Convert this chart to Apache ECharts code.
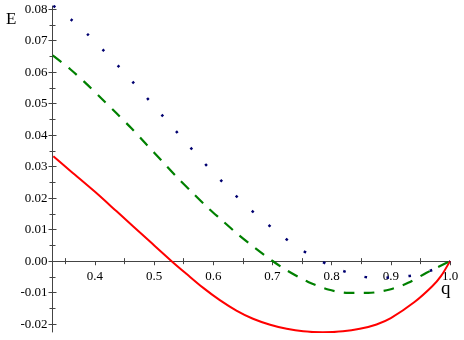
<!DOCTYPE html>
<html>
<head>
<meta charset="utf-8">
<script src="https://cdn.jsdelivr.net/npm/echarts@6/dist/echarts.min.js"></script>
<style>
  html, body { margin: 0; padding: 0; background: #fff; }
  #main { width: 464px; height: 340px; }
</style>
</head>
<body>
<div id="main"></div>
<script>
// curve samples: q values and E values
const qRed = [0.3296, 0.36, 0.4, 0.4366, 0.4929, 0.5295, 0.555, 0.583, 0.611, 0.639, 0.667, 0.696, 0.724, 0.752, 0.785, 0.819, 0.8476, 0.8758, 0.90, 0.94, 0.97, 0.985, 1.0];
const eRed = [0.0333, 0.0284, 0.0220, 0.0158, 0.0062, 0.0, -0.0041, -0.0085, -0.0124, -0.0157, -0.0183, -0.0202, -0.0215, -0.0223, -0.0226, -0.0223, -0.0215, -0.0201, -0.0181, -0.0130, -0.0080, -0.0047, 0];

const qGreen = [0.3285, 0.3578, 0.3843, 0.4101, 0.436, 0.462, 0.4867, 0.5127, 0.5373, 0.5627, 0.5887, 0.6157, 0.6421, 0.6703, 0.699, 0.7238, 0.7603, 0.7941, 0.8279, 0.8616, 0.8983, 0.9292, 0.9603, 1.0];
const eGreen = [0.0653, 0.0610, 0.0565, 0.0518, 0.0470, 0.0421, 0.0371, 0.0319, 0.0269, 0.0221, 0.0173, 0.0128, 0.0084, 0.0042, 0.0002, -0.0029, -0.0066, -0.0090, -0.0101, -0.0101, -0.0090, -0.0069, -0.0037, 0];

const qBlue = [0.3296, 0.359, 0.386, 0.4118, 0.4367, 0.4613, 0.4861, 0.5098, 0.534, 0.5583, 0.583, 0.6083, 0.6336, 0.6596, 0.6867, 0.7154, 0.744, 0.7742, 0.8057, 0.8375, 0.8733, 0.9068, 0.9405, 0.9743, 1.0];
const eBlue = [0.0811, 0.0768, 0.0723, 0.0674, 0.0625, 0.0574, 0.0522, 0.0471, 0.0419, 0.0367, 0.0315, 0.0265, 0.0216, 0.0169, 0.0125, 0.0081, 0.0042, 0.0008, -0.0021, -0.0042, -0.0054, -0.0051, -0.0044, -0.0025, 0];

// tick positions
const xMajor = [0.4, 0.5, 0.6, 0.7, 0.8, 0.9, 1.0];
const xMinor = [0.35, 0.45, 0.55, 0.65, 0.75, 0.85, 0.95];
const yMajor = [-0.02, -0.01, 0, 0.01, 0.02, 0.03, 0.04, 0.05, 0.06, 0.07, 0.08];
const yMinor = [-0.015, -0.005, 0.005, 0.015, 0.025, 0.035, 0.045, 0.055, 0.065, 0.075];

const X_MIN = 0.3282, X_MAX = 1.0;
const Y_MIN = -0.0225, Y_MAX = 0.081;

const GRID = { left: 52.5, right: 14, top: 6, bottom: 8 };
const H = 340;
// distance from grid bottom up to the E = 0 line, so the label axis sits on it
const zeroLift = (0 - Y_MIN) / (Y_MAX - Y_MIN) * (H - GRID.top - GRID.bottom);

const AXIS_COLOR = '#444';
const FONT = 'Liberation Serif';

const pairs = (xs, ys) => xs.map((x, i) => [x, ys[i]]);

// one axis per tick flavour so ticks can cross the line (in + out)
function xAx(ticks, len, inside, main) {
  return {
    type: 'value', min: X_MIN, max: X_MAX,
    axisLine: { show: true, onZero: true, lineStyle: { color: AXIS_COLOR, width: 1, opacity: main ? 1 : 0 } },
    axisTick: { show: true, customValues: ticks, length: len, inside: inside, lineStyle: { color: AXIS_COLOR, width: 1 } },
    axisLabel: { show: false },
    splitLine: { show: false }
  };
}
function yAx(ticks, len, inside, main) {
  return {
    type: 'value', min: Y_MIN, max: Y_MAX, position: 'left',
    axisLine: { show: true, onZero: false, lineStyle: { color: AXIS_COLOR, width: 1, opacity: main ? 1 : 0 } },
    axisTick: { show: true, customValues: ticks, length: len, inside: inside, lineStyle: { color: AXIS_COLOR, width: 1 } },
    axisLabel: main ? {
      show: true, customValues: yMajor, formatter: (v) => v.toFixed(2),
      margin: 5, color: '#000', fontFamily: FONT, fontSize: 13
    } : { show: false },
    splitLine: { show: false }
  };
}

const chart = echarts.init(document.getElementById('main'), null, { renderer: 'canvas' });
chart.setOption({
  animation: false,
  backgroundColor: '#fff',
  grid: Object.assign({ containLabel: false, outerBoundsMode: 'none' }, GRID),
  xAxis: [
    xAx(xMajor, 4, false, true),
    xAx(xMajor, 4, true, false),
    xAx(xMinor, 3, false, false),
    xAx(xMinor, 3, true, false),
    {
      // labels only, lifted onto the zero line
      type: 'value', min: X_MIN, max: X_MAX, position: 'bottom', offset: -zeroLift,
      axisLine: { show: false, onZero: false },
      axisTick: { show: false },
      axisLabel: {
        show: true, customValues: xMajor, formatter: (v) => v.toFixed(1),
        margin: 9, color: '#000', fontFamily: FONT, fontSize: 13
      },
      splitLine: { show: false }
    }
  ],
  yAxis: [
    yAx(yMajor, 4, false, true),
    yAx(yMajor, 4, true, false),
    yAx(yMinor, 3, false, false),
    yAx(yMinor, 3, true, false)
  ],
  graphic: [
    { type: 'text', x: 6, y: 20, style: { text: 'E', font: '17px "Liberation Serif"', fill: '#000', verticalAlign: 'middle' } },
    { type: 'text', x: 441, y: 289, style: { text: 'q', font: '19px "Liberation Serif"', fill: '#000', verticalAlign: 'middle' } }
  ],
  series: [
    {
      type: 'line', data: pairs(qRed, eRed), smooth: 0.3, showSymbol: false,
      lineStyle: { color: '#ff0000', width: 2 }
    },
    {
      type: 'line', data: pairs(qGreen, eGreen), smooth: 0.3, showSymbol: false,
      lineStyle: { color: '#008000', width: 2.2, type: [11, 9] }
    },
    {
      type: 'line', data: pairs(qBlue, eBlue), smooth: 0.3, showSymbol: false,
      lineStyle: { color: '#000070', width: 2.5, type: [2.5, 19.5] }
    }
  ]
});
</script>
</body>
</html>
